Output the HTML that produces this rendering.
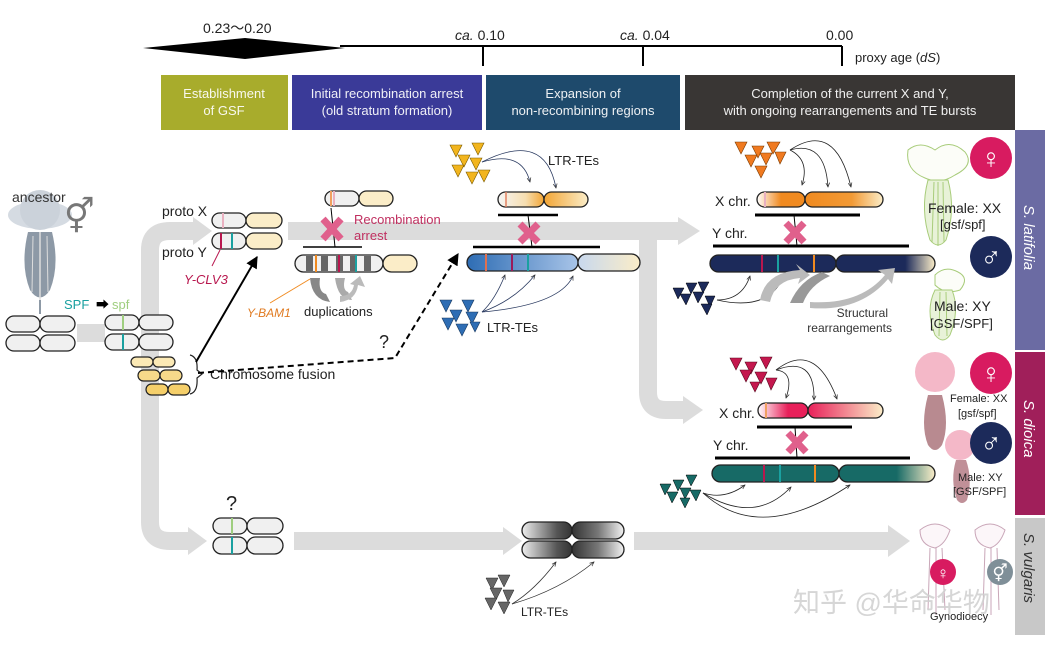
<!DOCTYPE html>
<html><head><meta charset="utf-8"><style>
html,body{margin:0;padding:0;background:#fff;}
svg{display:block;font-family:"Liberation Sans","Noto Sans CJK SC",sans-serif;}
</style></head><body>
<svg width="1045" height="645" viewBox="0 0 1045 645" xmlns="http://www.w3.org/2000/svg">
<defs>
<marker id="ah" viewBox="0 0 10 10" refX="9" refY="5" markerWidth="6" markerHeight="6" orient="auto"><path d="M0,0 L10,5 L0,10 z" fill="#000"/></marker>
<marker id="th" viewBox="0 0 10 10" refX="9" refY="5" markerWidth="6" markerHeight="6" orient="auto"><path d="M0,1 L9,5 L0,9" fill="none" stroke="#333" stroke-width="1.5"/></marker>
<linearGradient id="og" x1="0" x2="1"><stop offset="0" stop-color="#fff"/><stop offset=".5" stop-color="#f08a20"/><stop offset="1" stop-color="#f08a20"/></linearGradient>
<linearGradient id="og2" x1="0" x2="1"><stop offset="0" stop-color="#f08a20"/><stop offset=".6" stop-color="#f29a35"/><stop offset="1" stop-color="#fbedc8"/></linearGradient>
<linearGradient id="yg" x1="0" x2="1"><stop offset="0" stop-color="#f5f5f5"/><stop offset=".6" stop-color="#f6deb0"/><stop offset="1" stop-color="#f2a535"/></linearGradient>
<linearGradient id="yg2" x1="0" x2="1"><stop offset="0" stop-color="#f2a535"/><stop offset="1" stop-color="#fbedc8"/></linearGradient>
<linearGradient id="bg1" x1="0" x2="1"><stop offset="0" stop-color="#2e6db4"/><stop offset="1" stop-color="#a8c4e8"/></linearGradient>
<linearGradient id="bg2" x1="0" x2="1"><stop offset="0" stop-color="#c8d8ee"/><stop offset="1" stop-color="#fbedc8"/></linearGradient>
<linearGradient id="ng" x1="0" x2="1"><stop offset="0" stop-color="#1c2a5a"/><stop offset=".7" stop-color="#1c2a5a"/><stop offset="1" stop-color="#fbedc8"/></linearGradient>
<linearGradient id="tg" x1="0" x2="1"><stop offset="0" stop-color="#176a66"/><stop offset=".6" stop-color="#176a66"/><stop offset="1" stop-color="#fbedc8"/></linearGradient>
<linearGradient id="pg" x1="0" x2="1"><stop offset="0" stop-color="#fff"/><stop offset=".6" stop-color="#e8205a"/><stop offset="1" stop-color="#e8205a"/></linearGradient>
<linearGradient id="pg2" x1="0" x2="1"><stop offset="0" stop-color="#e8205a"/><stop offset="1" stop-color="#fbedc8"/></linearGradient>
<linearGradient id="gg" x1="0" x2="1"><stop offset="0" stop-color="#eee"/><stop offset=".7" stop-color="#555"/><stop offset="1" stop-color="#333"/></linearGradient>
<linearGradient id="gg2" x1="0" x2="1"><stop offset="0" stop-color="#333"/><stop offset=".5" stop-color="#777"/><stop offset="1" stop-color="#f2f2f2"/></linearGradient>
</defs>

<!-- timeline -->
<polygon points="143,48 245,38 345,48 245,59" fill="#000"/>
<line x1="340" y1="46" x2="842" y2="46" stroke="#000" stroke-width="2"/>
<line x1="483" y1="46" x2="483" y2="66" stroke="#000" stroke-width="2"/>
<line x1="643" y1="46" x2="643" y2="66" stroke="#000" stroke-width="2"/>
<line x1="842" y1="46" x2="842" y2="66" stroke="#000" stroke-width="2"/>
<g font-size="14" fill="#222">
<text x="203" y="33">0.23〜0.20</text>
<text x="455" y="40"><tspan font-style="italic">ca.</tspan> 0.10</text>
<text x="620" y="40"><tspan font-style="italic">ca.</tspan> 0.04</text>
<text x="826" y="40">0.00</text>
<text x="855" y="62" font-size="13">proxy age (<tspan font-style="italic">dS</tspan>)</text>
</g>

<!-- header boxes -->
<rect x="161" y="75" width="127" height="55" fill="#a8ac2c"/>
<rect x="292" y="75" width="190" height="55" fill="#3a3a98"/>
<rect x="486" y="75" width="194" height="55" fill="#1e4a6c"/>
<rect x="685" y="75" width="330" height="55" fill="#393634"/>
<g font-size="13" fill="#fff" text-anchor="middle" opacity=".92">
<text x="224" y="98">Establishment</text><text x="224" y="115">of GSF</text>
<text x="387" y="98">Initial recombination arrest</text><text x="387" y="115">(old stratum formation)</text>
<text x="583" y="98">Expansion of</text><text x="583" y="115">non-recombining regions</text>
<text x="850" y="98">Completion of the current X and Y,</text><text x="850" y="115">with ongoing rearrangements and TE bursts</text>
</g>

<!-- side bars -->
<rect x="1015" y="130" width="30" height="220" fill="#6b6ba3"/>
<rect x="1015" y="352" width="30" height="163" fill="#a01f5a"/>
<rect x="1015" y="518" width="30" height="117" fill="#c8c8c8"/>
<g font-size="15" fill="#fff" font-style="italic">
<text transform="translate(1024,205) rotate(90)">S. latifolia</text>
<text transform="translate(1024,400) rotate(90)">S. dioica</text>
<text transform="translate(1024,533) rotate(90)" fill="#333">S. vulgaris</text>
</g>

<!-- grey lanes -->
<g fill="none" stroke="#dcdcdc" stroke-width="18">
<path d="M77,333 L105,333"/>
<path d="M150,400 L150,250 Q150,231 170,231 L195,231"/>
<path d="M150,330 L150,522 Q150,541 170,541 L190,541"/>
<path d="M288,231 L680,231"/>
<path d="M648,231 L648,392 Q648,410 666,410 L685,410"/>
<path d="M294,541 L505,541"/>
<path d="M634,541 L890,541"/>
</g>
<g fill="#dcdcdc">
<polygon points="193,217 212,231 193,245"/>
<polygon points="188,527 207,541 188,555"/>
<polygon points="678,217 700,231 678,245"/>
<polygon points="683,396 703,410 683,424"/>
<polygon points="503,527 522,541 503,555"/>
<polygon points="888,525 910,541 888,557"/>
</g>

<!-- ancestor flower -->
<g>
<ellipse cx="40" cy="215" rx="32" ry="14" fill="#d5dbe2"/>
<ellipse cx="40" cy="210" rx="20" ry="20" fill="#cbd2da"/>
<path d="M28,232 Q20,265 30,290 Q40,305 50,290 Q60,265 52,232 Z" fill="#8d99a6"/>
<line x1="40" y1="232" x2="40" y2="300" stroke="#ddd" stroke-width="1.5"/>
<line x1="33" y1="236" x2="32" y2="292" stroke="#ddd"/>
<line x1="47" y1="236" x2="48" y2="292" stroke="#ddd"/>
<line x1="40" y1="300" x2="40" y2="314" stroke="#8d99a6" stroke-width="2"/>
</g>
<text x="12" y="202" font-size="14" fill="#333">ancestor</text>
<text x="64" y="228" font-size="34" fill="#777">⚥</text>
<text x="64" y="309" font-size="13" fill="#1aa0a0">SPF</text>
<text x="96" y="309" font-size="13">➡</text>
<text x="112" y="309" font-size="13" fill="#9fce7f">spf</text>

<!-- chromosomes -->
<g stroke="#222" stroke-width="1.3" fill="#f0f0f0">
<rect x="6" y="316" width="34" height="16" rx="8"/><rect x="40" y="316" width="35" height="16" rx="8"/>
<rect x="6" y="335" width="34" height="16" rx="8"/><rect x="40" y="335" width="35" height="16" rx="8"/>
<rect x="105" y="315" width="34" height="15" rx="7.5"/><rect x="139" y="315" width="34" height="15" rx="7.5"/>
<rect x="105" y="334" width="34" height="16" rx="8"/><rect x="139" y="334" width="34" height="16" rx="8"/>
</g>
<line x1="123" y1="315" x2="123" y2="330" stroke="#9fce7f" stroke-width="2"/>
<line x1="123" y1="334" x2="123" y2="350" stroke="#1aa0a0" stroke-width="2"/>
<g stroke="#222" stroke-width="1.2">
<rect x="131" y="357" width="22" height="10" rx="5" fill="#fbe9b5"/><rect x="153" y="357" width="22" height="10" rx="5" fill="#fbe9b5"/>
<rect x="138" y="370" width="22" height="11" rx="5.5" fill="#f7d98a"/><rect x="160" y="370" width="22" height="11" rx="5.5" fill="#f7d98a"/>
<rect x="146" y="384" width="22" height="11" rx="5.5" fill="#f5cf6a"/><rect x="168" y="384" width="22" height="11" rx="5.5" fill="#f5cf6a"/>
</g>
<path d="M190,355 Q198,357 197,370 L202,374 L197,378 Q198,392 190,394" fill="none" stroke="#222" stroke-width="1.2"/>
<text x="210" y="379" font-size="14" fill="#222">Chromosome fusion</text>

<!-- proto X/Y -->
<text x="162" y="216" font-size="14" fill="#222">proto X</text>
<text x="162" y="257" font-size="14" fill="#222">proto Y</text>
<g stroke="#222" stroke-width="1.3">
<rect x="212" y="213" width="34" height="15" rx="7.5" fill="#f0f0f0"/><rect x="246" y="213" width="36" height="15" rx="7.5" fill="#fbedc8"/>
<rect x="212" y="233" width="34" height="16" rx="8" fill="#f0f0f0"/><rect x="246" y="233" width="36" height="16" rx="8" fill="#fbedc8"/>
</g>
<line x1="223" y1="213" x2="223" y2="228" stroke="#e9b0c0" stroke-width="2"/>
<line x1="221" y1="233" x2="221" y2="249" stroke="#b8174e" stroke-width="2"/>
<line x1="232" y1="233" x2="232" y2="249" stroke="#1aa0a0" stroke-width="2"/>
<line x1="220" y1="250" x2="212" y2="266" stroke="#b8174e"/>
<text x="184" y="284" font-size="13" fill="#b8174e" font-style="italic">Y-CLV3</text>
<line x1="196" y1="362" x2="257" y2="257" stroke="#000" stroke-width="2" marker-end="url(#ah)"/>
<path d="M198,373 L395,358 L458,254" fill="none" stroke="#000" stroke-width="2" stroke-dasharray="6,4" marker-end="url(#ah)"/>
<text x="379" y="348" font-size="18" fill="#222">?</text>

<!-- old stratum -->
<g stroke="#222" stroke-width="1.3">
<rect x="325" y="191" width="34" height="15" rx="7.5" fill="#f0f0f0"/><rect x="359" y="191" width="34" height="15" rx="7.5" fill="#fbedc8"/>
<rect x="295" y="255" width="88" height="17" rx="8.5" fill="#f0f0f0"/><rect x="383" y="255" width="34" height="17" rx="8.5" fill="#fbedc8"/>
</g>
<line x1="331" y1="191" x2="331" y2="206" stroke="#f0a060" stroke-width="2"/>
<line x1="334" y1="191" x2="334" y2="206" stroke="#e9b0c0" stroke-width="2"/>
<g fill="#666"><rect x="306" y="256" width="7" height="15"/><rect x="321" y="256" width="7" height="15"/><rect x="336" y="256" width="7" height="15"/><rect x="350" y="256" width="7" height="15"/><rect x="364" y="256" width="7" height="15"/></g>
<line x1="316" y1="255" x2="316" y2="272" stroke="#f08a20" stroke-width="2"/>
<line x1="339" y1="255" x2="339" y2="272" stroke="#b8174e" stroke-width="2"/>
<line x1="356" y1="255" x2="356" y2="272" stroke="#1aa0a0" stroke-width="2"/>
<line x1="303" y1="247" x2="362" y2="247" stroke="#000" stroke-width="1.5"/>
<line x1="331" y1="208" x2="335" y2="247" stroke="#000" stroke-width="1"/>
<g stroke="#e0608c" stroke-width="7" stroke-linecap="butt"><line x1="323" y1="219" x2="341" y2="239"/><line x1="341" y1="219" x2="323" y2="239"/></g>
<text x="354" y="224" font-size="13" fill="#c03060">Recombination</text>
<text x="354" y="240" font-size="13" fill="#c03060">arrest</text>
<path d="M310,278 Q312,300 330,302 L326,294 Q318,292 320,278 Z" fill="#888"/>
<path d="M335,278 Q338,300 352,300 L348,292 Q342,290 345,278 Z" fill="#aaa"/>
<path d="M340,302 Q356,300 358,285 L365,287 L360,276 L350,284 L354,285 Q352,296 340,296 Z" fill="#bbb"/>
<text x="304" y="316" font-size="13" fill="#222">duplications</text>
<line x1="310" y1="279" x2="270" y2="303" stroke="#f08a20"/>
<text x="247" y="317" font-size="12" fill="#e07a20" font-style="italic">Y-BAM1</text>

<!-- expansion -->
<g fill="#f2b51e" stroke="#7a5a00" stroke-width=".6">
<polygon points="450,145 462,145 456,157"/><polygon points="472,143 484,143 478,155"/><polygon points="458,155 470,155 464,167"/><polygon points="470,158 482,158 476,170"/><polygon points="452,165 464,165 458,177"/><polygon points="466,172 478,172 472,184"/><polygon points="478,170 490,170 484,182"/>
</g>
<g fill="none" stroke="#2a3a60" stroke-width=".8" marker-end="url(#th)">
<path d="M482,162 Q522,150 530,182"/><path d="M482,162 Q545,130 556,188"/>
</g>
<text x="548" y="165" font-size="13" fill="#222">LTR-TEs</text>
<g stroke="#222" stroke-width="1.3">
<rect x="498" y="192" width="46" height="15" rx="7.5" fill="url(#yg)"/><rect x="544" y="192" width="44" height="15" rx="7.5" fill="url(#yg2)"/>
</g>
<line x1="506" y1="192" x2="506" y2="207" stroke="#e08060" stroke-width="1.5"/>
<line x1="498" y1="215" x2="558" y2="215" stroke="#000" stroke-width="2.5"/>
<line x1="473" y1="247" x2="600" y2="247" stroke="#000" stroke-width="2.5"/>
<line x1="528" y1="215" x2="532" y2="247" stroke="#000" stroke-width="1"/>
<g stroke="#e0608c" stroke-width="7"><line x1="520" y1="224" x2="538" y2="242"/><line x1="538" y1="224" x2="520" y2="242"/></g>
<g stroke="#222" stroke-width="1.3">
<rect x="467" y="254" width="111" height="17" rx="8.5" fill="url(#bg1)"/><rect x="578" y="254" width="62" height="17" rx="8.5" fill="url(#bg2)"/>
</g>
<line x1="486" y1="254" x2="486" y2="271" stroke="#e07050" stroke-width="2"/>
<line x1="512" y1="254" x2="512" y2="271" stroke="#9a1a5a" stroke-width="2"/>
<line x1="528" y1="254" x2="528" y2="271" stroke="#1aa0a0" stroke-width="2"/>
<g fill="#2e6db4" stroke="#1a3a60" stroke-width=".6">
<polygon points="440,300 452,300 446,312"/><polygon points="462,300 474,300 468,312"/><polygon points="450,310 462,310 456,322"/><polygon points="466,312 478,312 472,324"/><polygon points="442,318 454,318 448,330"/><polygon points="456,324 468,324 462,336"/><polygon points="470,322 480,322 475,332"/>
</g>
<g fill="none" stroke="#2a3a60" stroke-width=".8" marker-end="url(#th)">
<path d="M482,312 Q495,300 505,275"/><path d="M482,312 Q515,300 535,275"/><path d="M482,312 Q560,305 573,276"/>
</g>
<text x="487" y="332" font-size="13" fill="#222">LTR-TEs</text>

<!-- latifolia -->
<g fill="#f07a20" stroke="#7a3a00" stroke-width=".6">
<polygon points="735,142 747,142 741,154"/><polygon points="752,146 764,146 758,158"/><polygon points="767,142 780,142 773,154"/><polygon points="745,155 757,155 751,167"/><polygon points="760,153 772,153 766,165"/><polygon points="775,152 786,152 780,164"/><polygon points="755,166 767,166 761,178"/>
</g>
<g fill="none" stroke="#222" stroke-width=".8" marker-end="url(#th)">
<path d="M790,150 Q810,160 802,185"/><path d="M790,150 Q825,140 828,187"/><path d="M790,150 Q835,120 851,187"/>
</g>
<text x="715" y="206" font-size="14" fill="#222">X chr.</text>
<g stroke="#222" stroke-width="1.3">
<rect x="757" y="192" width="48" height="15" rx="7.5" fill="url(#og)"/><rect x="805" y="192" width="78" height="15" rx="7.5" fill="url(#og2)"/>
</g>
<line x1="765" y1="192" x2="765" y2="207" stroke="#e9b0c0" stroke-width="2"/>
<line x1="755" y1="215" x2="860" y2="215" stroke="#000" stroke-width="3"/>
<line x1="713" y1="246" x2="909" y2="246" stroke="#000" stroke-width="3"/>
<line x1="794" y1="215" x2="797" y2="246" stroke="#000" stroke-width="1"/>
<g stroke="#e0608c" stroke-width="7"><line x1="786" y1="223" x2="804" y2="242"/><line x1="804" y1="223" x2="786" y2="242"/></g>
<text x="712" y="238" font-size="14" fill="#222">Y chr.</text>
<g stroke="#222" stroke-width="1.3">
<rect x="710" y="255" width="126" height="17" rx="8.5" fill="#1c2a5a"/><rect x="836" y="255" width="99" height="17" rx="8.5" fill="url(#ng)"/>
</g>
<line x1="762" y1="255" x2="762" y2="272" stroke="#b8174e" stroke-width="2"/>
<line x1="778" y1="255" x2="778" y2="272" stroke="#1aa0a0" stroke-width="2"/>
<line x1="814" y1="255" x2="814" y2="272" stroke="#f08a20" stroke-width="2"/>
<g fill="#1c2a5a" stroke="#000" stroke-width=".5">
<polygon points="673,288 684,288 678,299"/><polygon points="686,283 697,283 691,294"/><polygon points="698,282 709,282 703,293"/><polygon points="680,294 691,294 686,305"/><polygon points="693,292 704,292 698,303"/><polygon points="705,296 715,296 710,307"/><polygon points="701,304 712,304 707,315"/>
</g>
<g fill="none" stroke="#222" stroke-width=".8" marker-end="url(#th)">
<path d="M717,300 Q742,300 750,276"/><path d="M717,300 Q770,312 784,275"/>
</g>
<path d="M760,300 Q765,272 800,270 L796,264 L810,275 L798,284 L800,278 Q775,280 770,302 Z" fill="#bbb"/>
<path d="M790,303 Q800,280 822,272 L830,276 Q810,285 803,303 Z" fill="#999"/>
<path d="M810,302 Q860,305 885,275 L878,270 L895,268 L892,284 L888,279 Q860,312 810,308 Z" fill="#bbb"/>
<text x="888" y="317" font-size="12" fill="#333" text-anchor="end">Structural</text>
<text x="892" y="332" font-size="12" fill="#333" text-anchor="end">rearrangements</text>

<!-- latifolia flowers -->
<g stroke="#a8cc7a" stroke-width="1" fill="none">
<path d="M908,150 Q920,140 935,150 Q950,138 965,152 Q975,165 955,175 Q940,185 925,178 Q905,170 908,150 Z" fill="#fcfdf8"/>
<path d="M928,180 Q920,210 930,240 Q938,250 946,240 Q956,210 948,180 Z" fill="#e8f2d8"/>
<line x1="934" y1="182" x2="932" y2="242"/><line x1="938" y1="182" x2="938" y2="246"/><line x1="943" y1="182" x2="944" y2="242"/>
<path d="M935,275 Q945,265 958,272 Q970,278 960,290 Q945,295 935,285 Z" fill="#fcfdf8"/>
<path d="M935,290 Q925,310 935,335 Q943,345 950,335 Q960,310 952,290 Z" fill="#e8f2d8"/>
<line x1="940" y1="292" x2="939" y2="336"/><line x1="946" y1="292" x2="947" y2="336"/>
</g>
<circle cx="991" cy="158" r="21" fill="#d81b60"/>
<text x="991" y="168" font-size="28" fill="#fff" text-anchor="middle">♀</text>
<circle cx="991" cy="257" r="21" fill="#1c2a5a"/>
<text x="991" y="267" font-size="28" fill="#fff" text-anchor="middle">♂</text>
<text x="928" y="213" font-size="14" fill="#222">Female: XX</text>
<text x="940" y="229" font-size="13" fill="#222">[gsf/spf]</text>
<text x="934" y="311" font-size="14" fill="#222">Male: XY</text>
<text x="930" y="328" font-size="13" fill="#222">[GSF/SPF]</text>

<!-- dioica -->
<g fill="#c4184e" stroke="#5a0a20" stroke-width=".6">
<polygon points="730,358 742,358 736,370"/><polygon points="745,362 757,362 751,374"/><polygon points="760,357 772,357 766,369"/><polygon points="740,370 752,370 746,382"/><polygon points="755,372 767,372 761,384"/><polygon points="766,378 777,378 771,390"/><polygon points="750,382 760,382 755,392"/>
</g>
<g fill="none" stroke="#222" stroke-width=".8" marker-end="url(#th)">
<path d="M776,370 Q795,372 786,398"/><path d="M776,370 Q815,355 814,400"/><path d="M776,370 Q815,340 837,399"/>
</g>
<text x="719" y="418" font-size="14" fill="#222">X chr.</text>
<g stroke="#222" stroke-width="1.3">
<rect x="758" y="403" width="50" height="15" rx="7.5" fill="url(#pg)"/><rect x="808" y="403" width="75" height="15" rx="7.5" fill="url(#pg2)"/>
</g>
<line x1="766" y1="403" x2="766" y2="418" stroke="#f0a060" stroke-width="2"/>
<line x1="757" y1="427" x2="852" y2="427" stroke="#000" stroke-width="3"/>
<line x1="715" y1="458" x2="910" y2="458" stroke="#000" stroke-width="3"/>
<line x1="795" y1="427" x2="797" y2="458" stroke="#000" stroke-width="1"/>
<g stroke="#e0608c" stroke-width="7"><line x1="788" y1="433" x2="806" y2="452"/><line x1="806" y1="433" x2="788" y2="452"/></g>
<text x="713" y="450" font-size="14" fill="#222">Y chr.</text>
<g stroke="#222" stroke-width="1.3">
<rect x="712" y="465" width="127" height="17" rx="8.5" fill="#176a66"/><rect x="839" y="465" width="96" height="17" rx="8.5" fill="url(#tg)"/>
</g>
<line x1="764" y1="465" x2="764" y2="482" stroke="#b8174e" stroke-width="2"/>
<line x1="780" y1="465" x2="780" y2="482" stroke="#1aa0a0" stroke-width="2"/>
<line x1="815" y1="465" x2="815" y2="482" stroke="#f08a20" stroke-width="2"/>
<g fill="#176a66" stroke="#000" stroke-width=".5">
<polygon points="660,484 671,484 665,495"/><polygon points="673,480 684,480 678,491"/><polygon points="686,475 697,475 691,486"/><polygon points="667,492 678,492 672,503"/><polygon points="680,488 691,488 685,499"/><polygon points="690,490 701,490 696,501"/><polygon points="680,498 690,498 685,508"/>
</g>
<g fill="none" stroke="#222" stroke-width=".8" marker-end="url(#th)">
<path d="M703,493 Q725,500 745,485"/><path d="M703,493 Q755,525 791,487"/><path d="M703,493 Q760,545 850,485"/>
</g>
<g>
<circle cx="935" cy="372" r="20" fill="#f4b8c8"/>
<path d="M928,395 Q920,425 928,445 Q935,455 942,445 Q950,425 942,395 Z" fill="#b88a90"/>
<circle cx="960" cy="445" r="15" fill="#f4b8c8"/>
<path d="M956,460 Q950,480 957,500 Q962,506 967,500 Q973,480 966,460 Z" fill="#c09098"/>
</g>
<circle cx="991" cy="373" r="21" fill="#d81b60"/>
<text x="991" y="383" font-size="28" fill="#fff" text-anchor="middle">♀</text>
<circle cx="991" cy="443" r="21" fill="#1c2a5a"/>
<text x="991" y="453" font-size="28" fill="#fff" text-anchor="middle">♂</text>
<text x="950" y="402" font-size="11" fill="#222">Female: XX</text>
<text x="958" y="417" font-size="11" fill="#222">[gsf/spf]</text>
<text x="958" y="481" font-size="11" fill="#222">Male: XY</text>
<text x="953" y="495" font-size="11" fill="#222">[GSF/SPF]</text>

<!-- vulgaris -->
<text x="226" y="510" font-size="20" fill="#222">?</text>
<g stroke="#222" stroke-width="1.3" fill="#f0f0f0">
<rect x="213" y="518" width="34" height="16" rx="8"/><rect x="247" y="518" width="36" height="16" rx="8"/>
<rect x="213" y="537" width="34" height="17" rx="8.5"/><rect x="247" y="537" width="36" height="17" rx="8.5"/>
</g>
<line x1="232" y1="518" x2="232" y2="534" stroke="#9fce7f" stroke-width="2"/>
<line x1="232" y1="537" x2="232" y2="554" stroke="#1aa0a0" stroke-width="2"/>
<g stroke="#222" stroke-width="1.3">
<rect x="522" y="522" width="50" height="17" rx="8.5" fill="url(#gg)"/><rect x="572" y="522" width="52" height="17" rx="8.5" fill="url(#gg2)"/>
<rect x="522" y="541" width="50" height="17" rx="8.5" fill="url(#gg)"/><rect x="572" y="541" width="52" height="17" rx="8.5" fill="url(#gg2)"/>
</g>
<g fill="#666" stroke="#222" stroke-width=".5">
<polygon points="486,578 498,578 492,590"/><polygon points="498,575 510,575 504,587"/><polygon points="490,588 502,588 496,600"/><polygon points="503,590 514,590 508,602"/><polygon points="485,598 497,598 491,610"/><polygon points="498,602 510,602 504,614"/>
</g>
<g fill="none" stroke="#333" stroke-width=".8" marker-end="url(#th)">
<path d="M512,604 Q535,590 556,562"/><path d="M512,604 Q560,590 594,562"/>
</g>
<text x="521" y="616" font-size="12" fill="#222">LTR-TEs</text>
<g stroke="#c9a6b8" fill="none">
<path d="M920,530 Q935,518 950,530 Q945,545 935,548 Q920,545 920,530 Z" fill="#fcf6f9"/>
<path d="M975,530 Q990,518 1005,530 Q1000,545 990,548 Q975,545 975,530 Z" fill="#fcf6f9"/>
<line x1="930" y1="548" x2="928" y2="610"/><line x1="936" y1="548" x2="936" y2="615"/><line x1="942" y1="548" x2="945" y2="610"/>
<line x1="985" y1="548" x2="983" y2="610"/><line x1="991" y1="548" x2="991" y2="615"/><line x1="997" y1="548" x2="999" y2="610"/>
</g>
<circle cx="943" cy="572" r="13" fill="#d81b60"/>
<text x="943" y="579" font-size="17" fill="#fff" text-anchor="middle">♀</text>
<circle cx="1000" cy="572" r="13" fill="#7f8f98"/>
<text x="1000" y="579" font-size="17" fill="#fff" text-anchor="middle">⚥</text>
<text x="930" y="620" font-size="11" fill="#222">Gynodioecy</text>
<text x="793" y="612" font-size="27" fill="#d0d0d0" opacity=".85">知乎 @华命华物</text>
</svg>
</body></html>
